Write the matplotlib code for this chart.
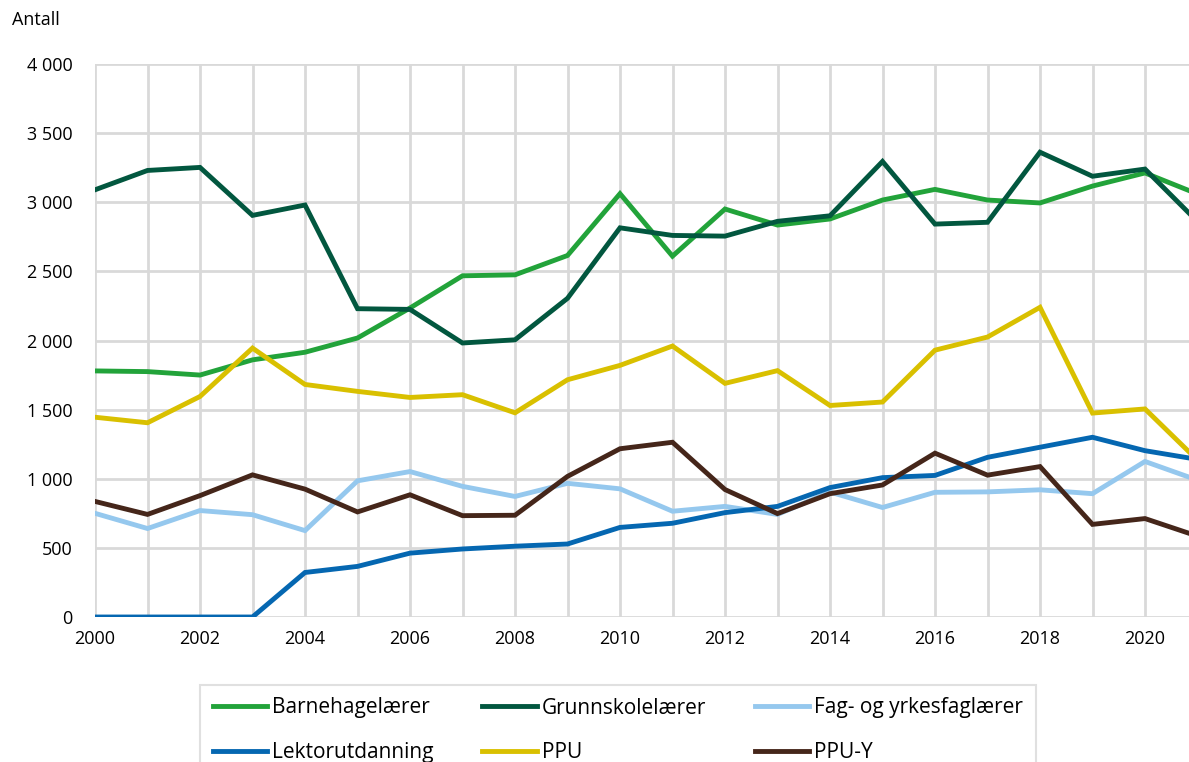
import matplotlib.pyplot as plt
from matplotlib.ticker import FuncFormatter

years = list(range(2000, 2022))

barnehage = [1780, 1775, 1750, 1860, 1915, 2018, 2235, 2468, 2475, 2615, 3062, 2610,
             2951, 2835, 2879, 3016, 3093, 3016, 2995, 3117, 3212, 3060]
grunnskole = [3090, 3230, 3252, 2905, 2980, 2230, 2225, 1982, 2005, 2305, 2815, 2760,
              2755, 2862, 2902, 3295, 2842, 2855, 3362, 3188, 3240, 2860]
fag = [750, 640, 770, 740, 625, 985, 1052, 945, 872, 967, 927, 765,
       800, 742, 904, 792, 902, 905, 920, 892, 1125, 990]
lektor = [0, 0, 0, 0, 322, 366, 462, 492, 512, 528, 648, 678,
          755, 800, 936, 1008, 1024, 1155, 1228, 1300, 1203, 1140]
ppu = [1445, 1405, 1595, 1945, 1682, 1632, 1588, 1608, 1477, 1716, 1820, 1960,
       1690, 1782, 1530, 1555, 1930, 2025, 2240, 1475, 1505, 1135]
ppu_y = [836, 742, 878, 1028, 925, 760, 884, 733, 736, 1017, 1217, 1264,
         922, 748, 892, 955, 1185, 1026, 1088, 670, 712, 585]

series = [
    ('Barnehagelærer', barnehage, '#22a33a'),
    ('Grunnskolelærer', grunnskole, '#02573f'),
    ('Fag- og yrkesfaglærer', fag, '#95c8ee'),
    ('Lektorutdanning', lektor, '#0567b1'),
    ('PPU', ppu, '#d9c000'),
    ('PPU-Y', ppu_y, '#45261a'),
]

plt.rcParams['font.family'] = ['Open Sans', 'DejaVu Sans']
plt.rcParams['font.size'] = 13

fig = plt.figure(figsize=(11.89, 7.62), dpi=100)
ax = fig.add_axes([95 / 1189, 145 / 762, 1102.5 / 1189, 553 / 762])

lines = []
for name, vals, col in series:
    ln, = ax.plot(years, vals, color=col, lw=3.5, label=name, solid_joinstyle='miter')
    lines.append(ln)

ax.set_xlim(2000, 2021)
ax.set_ylim(0, 4000)
ax.set_xticks(years)
ax.set_xticklabels([str(y) if y % 2 == 0 else '' for y in years])
ax.set_yticks(range(0, 4001, 500))
ax.yaxis.set_major_formatter(FuncFormatter(lambda v, p: f'{int(v):,}'.replace(',', ' ')))
ax.tick_params(length=0, labelsize=13, colors='#000000')
ax.tick_params(axis='y', pad=16)
ax.tick_params(axis='x', pad=9)
ax.grid(True, color='#d9d9d9', lw=2)
ax.set_axisbelow(True)
for s in ax.spines.values():
    s.set_visible(False)

fig.text(12 / 1189, 1 - 20 / 762, 'Antall', fontsize=13, va='center', ha='left')

# matplotlib fyller kolonnevis, referansen radvis
order = [0, 3, 1, 4, 2, 5]
leg = fig.legend([lines[i] for i in order], [series[i][0] for i in order],
                 loc='upper left', bbox_to_anchor=(200 / 1189, 1 - 685 / 762), ncol=3,
                 borderaxespad=0, frameon=True, fancybox=False, edgecolor='#d9d9d9',
                 fontsize=15, handlelength=2.6, handletextpad=0.25, columnspacing=2.35,
                 borderpad=0.6, labelspacing=1.15)
leg.get_frame().set_linewidth(1.5)

fig.savefig('out.png', dpi=100)
